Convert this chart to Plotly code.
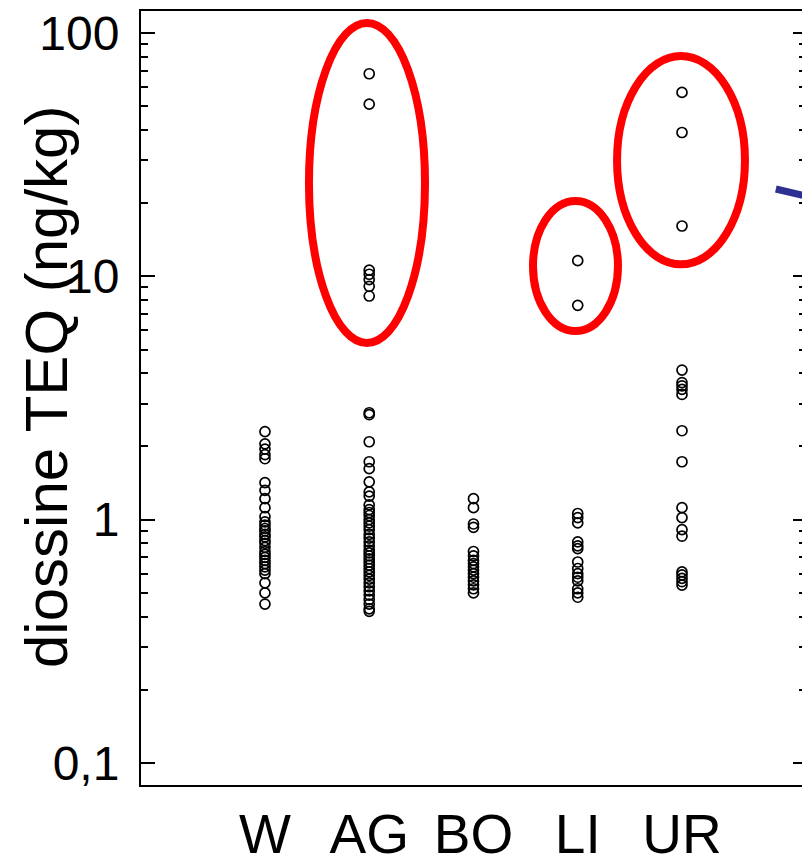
import plotly.graph_objects as go
import math

# ---------------- data ----------------
categories = ["W", "AG", "BO", "LI", "UR"]

W_values = [2.3, 2.05, 1.95, 1.85, 1.78, 1.42, 1.32, 1.22, 1.12, 1.03,
            0.98, 0.95, 0.92, 0.9, 0.87, 0.85, 0.82, 0.8, 0.77, 0.74,
            0.72, 0.7, 0.68, 0.66, 0.64, 0.62, 0.6, 0.55, 0.5, 0.45]
AG_values = [68, 51, 10.6, 10.2, 9.7, 9.1, 8.3,
             2.75, 2.7, 2.09, 1.73, 1.62, 1.43, 1.3, 1.25,
             1.15, 1.1, 1.07, 1.04, 1.0, 0.97, 0.94, 0.91, 0.87, 0.84,
             0.81, 0.78, 0.75, 0.73, 0.71, 0.69, 0.67, 0.65, 0.63, 0.61,
             0.59, 0.57, 0.55, 0.53, 0.51, 0.49, 0.47, 0.45, 0.43, 0.42]
BO_values = [1.22, 1.12, 0.96, 0.93, 0.74, 0.71, 0.68, 0.66, 0.64, 0.62,
             0.6, 0.58, 0.56, 0.54, 0.52, 0.5]
LI_values = [11.6, 7.6, 1.06, 1.02, 0.97, 0.81, 0.78, 0.76, 0.67, 0.63,
             0.6, 0.58, 0.56, 0.52, 0.5, 0.48]
UR_values = [57, 39, 16.1, 4.12, 3.66, 3.55, 3.43, 3.27, 2.32, 1.73,
             1.12, 1.02, 0.91, 0.855, 0.61, 0.593, 0.574, 0.556, 0.538]

series = [W_values, AG_values, BO_values, LI_values, UR_values]

y_tick_vals = [0.1, 1, 10, 100]
y_tick_text = ["0,1", "1", "10", "100"]
y_minor_vals = [m * d for d in (0.1, 1, 10) for m in range(2, 10)]

y_title = "diossine TEQ (ng/kg)"

# highlight ellipses: (x from, x to) in category units, (y from, y to) in data units
ellipses = [
    ((0.422, 1.535), (110.0, 5.32)),   # AG
    ((2.571, 3.386), (20.4, 5.96)),    # LI
    ((3.377, 4.604), (80.4, 11.2)),    # UR
]
# arrow fragment entering from the right (x in category units, y in data units)
arrow_x = [4.90, 5.40]
arrow_y = [22.85, 20.37]

# ---------------- figure ----------------
W, H = 802, 857
left, top, bottom = 141, 11, 72
x_range = [-1.189, 5.151]
y_log_range = [-1.0904, 2.0904]

fig = go.Figure()
for cat, vals in zip(categories, series):
    fig.add_trace(go.Scatter(
        x=[cat] * len(vals), y=vals, mode="markers",
        marker=dict(symbol="circle-open", size=10, color="black",
                    line=dict(width=1.7, color="black")),
        showlegend=False, hoverinfo="y"))

# helper traces so overlay axes exist
fig.add_trace(go.Scatter(x=[None], y=[None], yaxis="y2", showlegend=False, hoverinfo="skip"))
fig.add_trace(go.Scatter(x=[None], y=[None], yaxis="y3", showlegend=False, hoverinfo="skip"))

font_family = "Liberation Sans, Arial, sans-serif"

fig.update_layout(
    width=W, height=H,
    margin=dict(l=left, r=0, t=top, b=bottom, pad=0),
    paper_bgcolor="white", plot_bgcolor="white",
    template="none",
    font=dict(family=font_family, color="black"),
    xaxis=dict(
        type="category", categoryorder="array", categoryarray=categories,
        range=x_range, showgrid=False, zeroline=False,
        showline=True, linecolor="black", linewidth=2, mirror=True,
        ticks="", tickfont=dict(size=55, family=font_family, color="black"),
        ticklabelstandoff=0,
    ),
    yaxis=dict(
        type="log", range=y_log_range, showgrid=False, zeroline=False,
        showline=True, linecolor="black", linewidth=2, mirror=False,
        tickmode="array", tickvals=y_tick_vals, ticktext=y_tick_text,
        ticks="inside", ticklen=14, tickwidth=2, tickcolor="black",
        tickfont=dict(size=48, family=font_family, color="black"),
        ticklabelstandoff=10,
        minor=dict(tickmode="array", tickvals=y_minor_vals, ticks="inside",
                   ticklen=7, tickwidth=1.5, tickcolor="black", showgrid=False),
    ),
    yaxis2=dict(
        type="log", range=y_log_range, overlaying="y", side="right", anchor="x",
        showgrid=False, zeroline=False, showline=False, showticklabels=False,
        tickmode="array", tickvals=y_tick_vals,
        ticks="inside", ticklen=9, tickwidth=2, tickcolor="black",
        minor=dict(tickmode="array", tickvals=y_minor_vals, ticks="inside",
                   ticklen=3, tickwidth=1.5, tickcolor="black", showgrid=False),
    ),
    yaxis3=dict(
        type="linear", range=y_log_range, overlaying="y", visible=False,
        showgrid=False, zeroline=False,
    ),
)

for (xa, xb), (ya, yb) in ellipses:
    fig.add_shape(type="circle", xref="x", yref="y3",
                  x0=xa, x1=xb, y0=math.log10(ya), y1=math.log10(yb),
                  line=dict(color="#ff0000", width=8), fillcolor="rgba(0,0,0,0)")

fig.add_shape(type="line", xref="x", yref="y3",
              x0=arrow_x[0], x1=arrow_x[1],
              y0=math.log10(arrow_y[0]), y1=math.log10(arrow_y[1]),
              line=dict(color="#2e3192", width=7))

# rotated y-axis title
plot_w = W - left
plot_h = H - top - bottom
fig.add_annotation(
    text=y_title, textangle=-90, showarrow=False,
    xref="paper", yref="paper",
    x=(46 - left) / plot_w, y=(H - bottom - 387) / plot_h,
    xanchor="center", yanchor="middle",
    font=dict(size=60, family=font_family, color="black"),
)

fig.write_html("out.html",
               config={"displayModeBar": False},
               post_script="document.body.style.margin='0';document.body.style.overflow='hidden';")
